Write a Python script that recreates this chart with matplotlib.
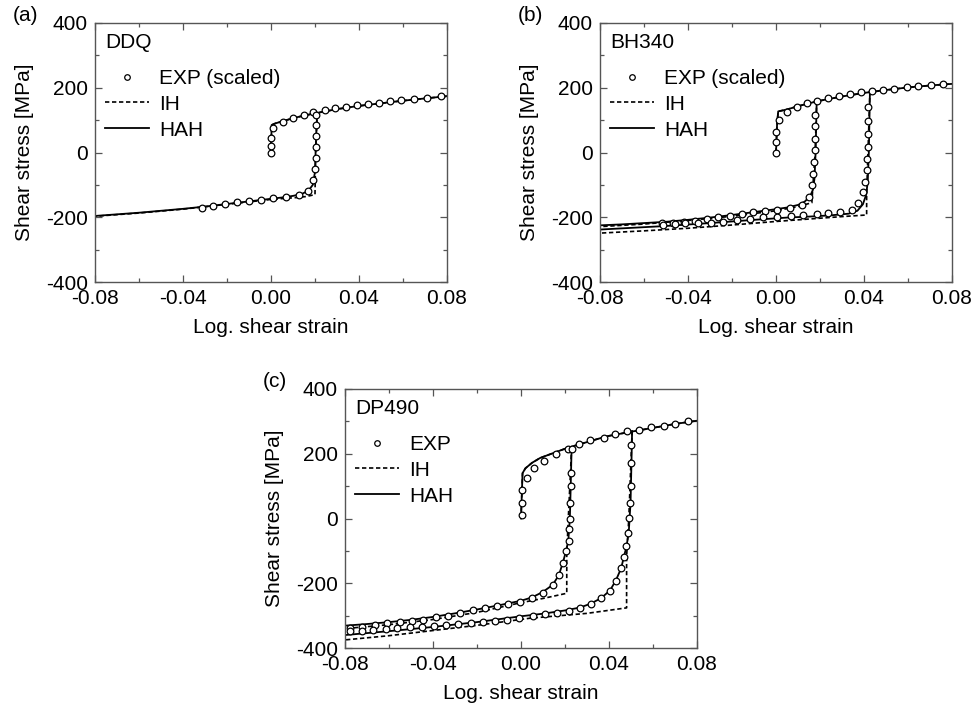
import matplotlib
matplotlib.use("Agg")
import matplotlib.pyplot as plt
from matplotlib.lines import Line2D
from matplotlib.ticker import MultipleLocator, FormatStrFormatter

plt.rcParams["font.family"] = ["Liberation Sans", "DejaVu Sans"]
plt.rcParams["axes.unicode_minus"] = False

# ---- (a) DDQ ----
ddq_exp_load_x = [0.0, 0.0, 0.0, 0.001, 0.0054, 0.010, 0.0148, 0.0193, 0.0247, 0.0292, 0.034,
                  0.039, 0.044, 0.049, 0.054, 0.0593, 0.065, 0.071, 0.0773]
ddq_exp_load_y = [0, 20, 46, 77, 95, 108, 116, 124, 131, 137, 142, 146, 150, 154, 158, 163, 166, 169, 173]
ddq_exp_rev_x = [0.0205, 0.0205, 0.0205, 0.0205, 0.0205, 0.0200, 0.0192, 0.0170, 0.0125, 0.0069,
                 0.0011, -0.0046, -0.0100, -0.0155, -0.0209, -0.0265, -0.0315]
ddq_exp_rev_y = [116, 85, 51, 18, -18, -51, -85, -118, -130, -136, -140, -146, -150, -154, -160, -165, -170]
ddq_hah_load_x = [0.0, 0.0003, 0.002, 0.005, 0.01, 0.015, 0.02, 0.03, 0.04, 0.05, 0.06, 0.07, 0.08]
ddq_hah_load_y = [0, 85, 90, 96, 106, 114, 121, 134, 144, 152, 160, 167, 174]
ddq_hah_rev_x = [0.021, 0.0205, 0.0200, 0.019, 0.017, 0.014, 0.010, 0.005, 0.0, -0.01, -0.02, -0.03,
                 -0.04, -0.05, -0.06, -0.07, -0.08]
ddq_hah_rev_y = [122, 50, -60, -100, -118, -128, -134, -139, -143, -151, -159, -167, -174, -180, -186, -191, -196]
ddq_ih_rev_x = [0.021, 0.0203, 0.0200, 0.016, 0.012, 0.008, 0.004, 0.0, -0.02, -0.04, -0.06, -0.08]
ddq_ih_rev_y = [122, 0, -130, -136, -139, -141, -143, -145, -160, -175, -187, -197]

# ---- (b) BH340 ----
bh_exp_load_x = [0.0, 0.0, 0.0, 0.0015, 0.0049, 0.0097, 0.0142, 0.0185, 0.0235, 0.0288, 0.0336,
                 0.0386, 0.0435, 0.0485, 0.0538, 0.0594, 0.0647, 0.0703, 0.0758]
bh_exp_load_y = [0, 33, 64, 100, 126, 141, 154, 160, 167, 175, 180, 186, 190, 193, 197, 201, 205, 209, 212]
bh_exp_rev1_x = [0.0177, 0.0177, 0.0177, 0.0175, 0.0173, 0.017, 0.0165, 0.0151, 0.0117, 0.0064, 0.0006,
                 -0.005, -0.0103, -0.0156, -0.0209, -0.0262, -0.0315, -0.0368, -0.0417, -0.0467, -0.052]
bh_exp_rev1_y = [116, 83, 42, 8, -28, -67, -100, -137, -162, -172, -178, -180, -185, -190, -195, -200,
                 -205, -211, -214, -217, -219]
bh_exp_rev2_x = [0.042, 0.042, 0.042, 0.042, 0.0415, 0.0412, 0.0405, 0.0394, 0.0374, 0.0344, 0.0291,
                 0.0238, 0.0185, 0.0124, 0.0067, 0.0006, -0.0058, -0.0118, -0.0179, -0.024, -0.0295,
                 -0.0353, -0.0414, -0.0459, -0.0512]
bh_exp_rev2_y = [141, 97, 57, 16, -20, -54, -90, -121, -155, -178, -185, -188, -190, -193, -195, -198,
                 -200, -205, -208, -214, -217, -219, -219, -221, -224]
bh_hah_load_x = [0.0, 0.0005, 0.001, 0.005, 0.01, 0.015, 0.02, 0.03, 0.04, 0.05, 0.06, 0.07, 0.08]
bh_hah_load_y = [0, 90, 127, 133, 143, 152, 160, 173, 184, 193, 201, 207, 212]
bh_hah_rev1_x = [0.0185, 0.018, 0.0175, 0.0168, 0.0155, 0.013, 0.010, 0.005, 0.0, -0.01, -0.02, -0.03,
                 -0.04, -0.05, -0.06, -0.07, -0.08]
bh_hah_rev1_y = [160, 0, -80, -115, -135, -152, -162, -170, -175, -184, -193, -201, -208, -214, -218, -222, -225]
bh_ih_rev1_x = [0.0185, 0.0178, 0.0168, 0.0163, 0.01, 0.0, -0.02, -0.04, -0.06, -0.08]
bh_ih_rev1_y = [160, 0, -100, -155, -167, -180, -197, -210, -221, -229]
bh_hah_rev2_x = [0.0427, 0.0422, 0.0417, 0.041, 0.0395, 0.037, 0.033, 0.025, 0.015, 0.005, -0.01,
                 -0.03, -0.05, -0.08]
bh_hah_rev2_y = [190, 0, -90, -130, -160, -180, -189, -194, -198, -201, -208, -218, -227, -238]
bh_ih_rev2_x = [0.0427, 0.0418, 0.0412, 0.0412, 0.03, 0.02, 0.0, -0.02, -0.04, -0.06, -0.08]
bh_ih_rev2_y = [190, 0, -126, -193, -198, -203, -213, -224, -234, -242, -249]

# ---- (c) DP490 ----
dp_exp_load_x = [0.0004, 0.0004, 0.0004, 0.0027, 0.0057, 0.0105, 0.016, 0.0213, 0.0262, 0.0315, 0.0375,
                 0.0429, 0.0482, 0.0538, 0.0593, 0.0649, 0.0702, 0.0758]
dp_exp_load_y = [10, 48, 87, 125, 155, 179, 200, 216, 230, 243, 250, 261, 269, 274, 282, 286, 292, 300]
dp_exp_rev1_x = [0.023, 0.0226, 0.0226, 0.0224, 0.0222, 0.0219, 0.0216, 0.0205, 0.0192, 0.0174, 0.0144,
                 0.0099, 0.0049, -0.0005, -0.0058, -0.0111, -0.0164, -0.022, -0.0277, -0.0333, -0.0386,
                 -0.0444, -0.0497, -0.055, -0.061, -0.0664, -0.0724, -0.0777]
dp_exp_rev1_y = [214, 140, 100, 49, -2, -33, -69, -100, -137, -175, -205, -229, -247, -257, -264, -270,
                 -277, -284, -293, -300, -305, -312, -316, -321, -324, -329, -334, -337]
dp_exp_rev2_x = [0.0501, 0.05, 0.0499, 0.0496, 0.0492, 0.0487, 0.0477, 0.0468, 0.0455, 0.0432, 0.0405,
                 0.0364, 0.0317, 0.0268, 0.0218, 0.0162, 0.0108, 0.0053, -0.0008, -0.0065, -0.0118,
                 -0.0171, -0.0227, -0.0285, -0.0341, -0.0394, -0.0451, -0.0505, -0.0562, -0.0615,
                 -0.0671, -0.0724, -0.0777]
dp_exp_rev2_y = [227, 170, 100, 47, 2, -44, -85, -118, -154, -192, -223, -247, -265, -277, -285, -293,
                 -295, -300, -308, -313, -316, -319, -322, -326, -329, -332, -334, -336, -339, -341,
                 -344, -346, -348]
dp_hah_load_x = [0.0, 0.0007, 0.002, 0.005, 0.0087, 0.015, 0.021, 0.03, 0.039, 0.05, 0.06, 0.07, 0.08]
dp_hah_load_y = [0, 140, 155, 172, 187, 203, 218, 236, 254, 268, 280, 292, 302]
dp_hah_rev1_x = [0.023, 0.0226, 0.0222, 0.0215, 0.0205, 0.019, 0.0172, 0.0144, 0.0099, 0.0049, 0.0,
                 -0.01, -0.02, -0.03, -0.04, -0.05, -0.06, -0.07, -0.08]
dp_hah_rev1_y = [218, 100, 0, -69, -100, -137, -175, -205, -227, -244, -254, -268, -281, -293, -304,
                 -313, -320, -326, -331]
dp_ih_rev1_x = [0.023, 0.0215, 0.0208, 0.0208, 0.01, 0.0, -0.02, -0.04, -0.06, -0.08]
dp_ih_rev1_y = [218, 0, -108, -231, -247, -260, -290, -312, -328, -340]
dp_hah_rev2_x = [0.0505, 0.0502, 0.0498, 0.049, 0.048, 0.0468, 0.0455, 0.0432, 0.0405, 0.0364, 0.0317,
                 0.0268, 0.02, 0.01, 0.0, -0.02, -0.04, -0.06, -0.08]
dp_hah_rev2_y = [270, 170, 50, -40, -85, -118, -154, -190, -222, -246, -263, -275, -284, -294, -302,
                 -320, -335, -348, -360]
dp_ih_rev2_x = [0.0505, 0.049, 0.048, 0.048, 0.03, 0.0041, -0.02, -0.04, -0.06, -0.08]
dp_ih_rev2_y = [270, 0, -118, -276, -293, -308, -330, -346, -362, -375]

FS = 15
DASH = (0, (2.6, 1.6))


def draw_panel(ax, tag, name, exp_label, exp, ih, hah):
    for x, y in ih:
        ax.plot(x, y, color="black", lw=1.2, linestyle=DASH)
    for x, y in hah:
        ax.plot(x, y, color="black", lw=1.3)
    for x, y in exp:
        ax.plot(x, y, linestyle="none", marker="o", ms=4.8, mfc="white", mec="black", mew=0.9)

    ax.set_xlim(-0.08, 0.08)
    ax.set_ylim(-400, 400)
    ax.xaxis.set_major_locator(MultipleLocator(0.04))
    ax.xaxis.set_minor_locator(MultipleLocator(0.02))
    ax.yaxis.set_major_locator(MultipleLocator(200))
    ax.yaxis.set_minor_locator(MultipleLocator(100))
    ax.xaxis.set_major_formatter(FormatStrFormatter("%.2f"))
    ax.yaxis.set_major_formatter(FormatStrFormatter("%d"))
    ax.tick_params(which="both", direction="in", top=True, right=True, labelsize=FS,
                   color="#555555")
    ax.tick_params(axis="x", which="major", pad=5)
    ax.tick_params(axis="y", which="major", pad=5)
    ax.tick_params(which="major", length=5, width=0.9)
    ax.tick_params(which="minor", length=3, width=0.9)
    for s in ax.spines.values():
        s.set_color("#555555")
        s.set_linewidth(1.0)
    ax.set_xlabel("Log. shear strain", fontsize=FS, labelpad=7)
    ax.set_ylabel("Shear stress [MPa]", fontsize=FS, labelpad=9)

    ax.text(0.028, 0.925, name, transform=ax.transAxes, fontsize=FS, va="center", ha="left")
    ax.text(-0.235, 1.03, tag, transform=ax.transAxes, fontsize=FS, va="center", ha="left")

    handles = [
        Line2D([], [], linestyle="none", marker="o", ms=4.0, mfc="white", mec="black", mew=0.9),
        Line2D([], [], color="black", lw=1.2, linestyle=DASH),
        Line2D([], [], color="black", lw=1.3),
    ]
    ax.legend(handles, [exp_label, "IH", "HAH"], loc="upper left", bbox_to_anchor=(0.029, 0.823),
              frameon=False, fontsize=FS, handlelength=2.1, handletextpad=0.5,
              labelspacing=0.33, borderpad=0, borderaxespad=0)


fig = plt.figure(figsize=(9.74, 7.07), dpi=100)
ax_a = fig.add_axes([95 / 974, 1 - 282 / 707, 352 / 974, 259 / 707])
ax_b = fig.add_axes([600 / 974, 1 - 282 / 707, 352 / 974, 259 / 707])
ax_c = fig.add_axes([345 / 974, 1 - 648 / 707, 352 / 974, 259 / 707])

draw_panel(ax_a, "(a)", "DDQ", "EXP (scaled)",
           [(ddq_exp_load_x, ddq_exp_load_y), (ddq_exp_rev_x, ddq_exp_rev_y)],
           [(ddq_hah_load_x, ddq_hah_load_y), (ddq_ih_rev_x, ddq_ih_rev_y)],
           [(ddq_hah_load_x, ddq_hah_load_y), (ddq_hah_rev_x, ddq_hah_rev_y)])
draw_panel(ax_b, "(b)", "BH340", "EXP (scaled)",
           [(bh_exp_load_x, bh_exp_load_y), (bh_exp_rev1_x, bh_exp_rev1_y), (bh_exp_rev2_x, bh_exp_rev2_y)],
           [(bh_hah_load_x, bh_hah_load_y), (bh_ih_rev1_x, bh_ih_rev1_y), (bh_ih_rev2_x, bh_ih_rev2_y)],
           [(bh_hah_load_x, bh_hah_load_y), (bh_hah_rev1_x, bh_hah_rev1_y), (bh_hah_rev2_x, bh_hah_rev2_y)])
draw_panel(ax_c, "(c)", "DP490", "EXP",
           [(dp_exp_load_x, dp_exp_load_y), (dp_exp_rev1_x, dp_exp_rev1_y), (dp_exp_rev2_x, dp_exp_rev2_y)],
           [(dp_hah_load_x, dp_hah_load_y), (dp_ih_rev1_x, dp_ih_rev1_y), (dp_ih_rev2_x, dp_ih_rev2_y)],
           [(dp_hah_load_x, dp_hah_load_y), (dp_hah_rev1_x, dp_hah_rev1_y), (dp_hah_rev2_x, dp_hah_rev2_y)])

fig.savefig("out.png", dpi=100)
